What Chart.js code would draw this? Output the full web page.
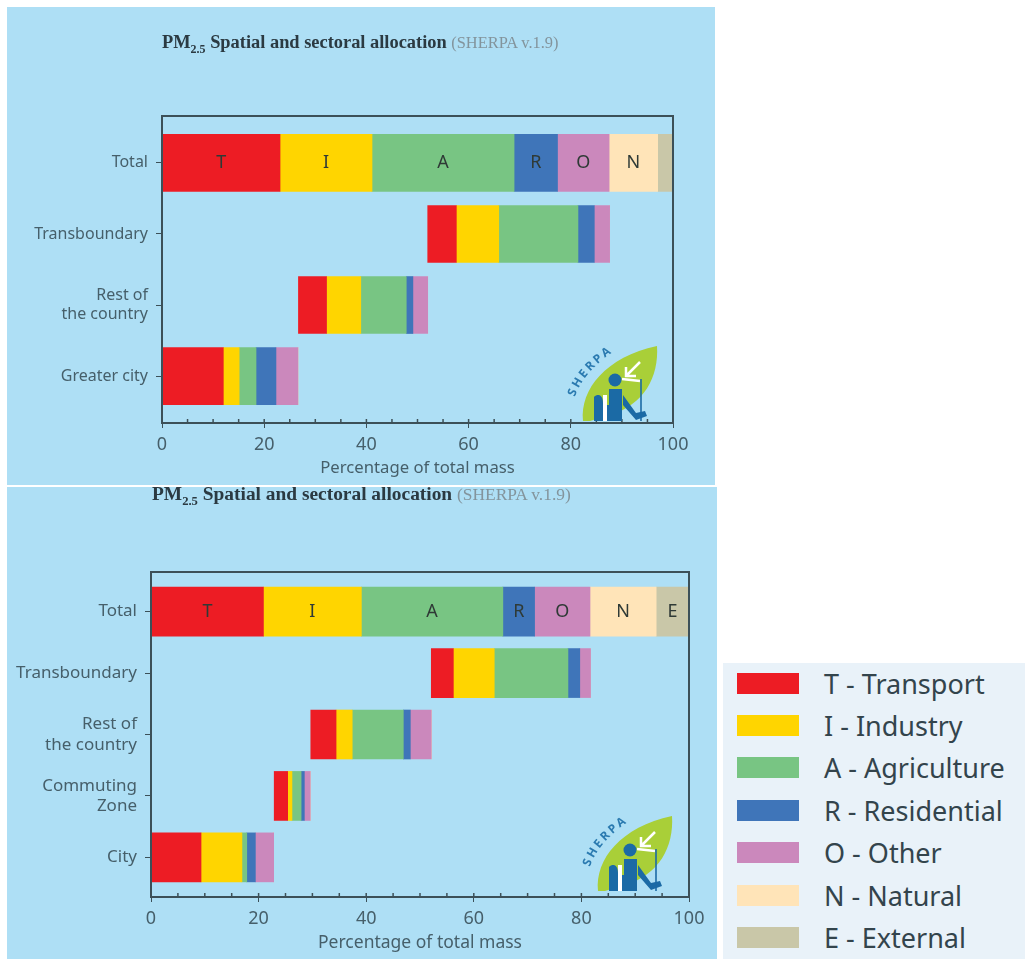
<!DOCTYPE html>
<html lang="en">
<head>
<meta charset="UTF-8">
<title>PM2.5 Spatial and sectoral allocation</title>
<script src="https://cdn.jsdelivr.net/npm/chart.js"></script>
<style>
    html, body { margin: 0; padding: 0; background: #fff; }
    body { position: relative; width: 1025px; height: 959px; overflow: hidden; }
    .panel { position: absolute; background: #aedff5; }
    #panel-top { left: 7px; top: 7px; width: 708px; height: 478px; }
    #panel-bottom { left: 7px; top: 487px; width: 710px; height: 472px; }
    .panel canvas { position: absolute; left: 0; top: 0; }
    .title { position: absolute; font-family: "Liberation Serif", serif; font-weight: bold; color: #2b3a42; white-space: nowrap; }
    .title sub { font-size: 0.65em; line-height: 0; }
    .title span { font-weight: normal; color: #83949c; }
    .logo { position: absolute; width: 120px; height: 110px; }
    #legend { position: absolute; left: 723px; top: 663px; width: 302px; height: 296px; background: #e9f2f9; }
    .row { position: absolute; left: 14px; height: 22px; display: flex; align-items: center; white-space: nowrap; }
    .row i { display: block; width: 62px; height: 21px; margin-right: 25px; }
    .row b { font: normal 27px "Noto Sans", sans-serif; color: #33444c; }
</style>
</head>
<body>
<div class="panel" id="panel-top"><canvas id="chart-top" width="708" height="478"></canvas></div>
<div class="panel" id="panel-bottom"><canvas id="chart-bottom" width="710" height="472"></canvas></div>

<div class="title" style="left:162px;top:32px;font-size:18.4px">PM<sub>2.5</sub> Spatial and sectoral allocation <span style="font-size:16.4px">(SHERPA v.1.9)</span></div>
<div class="title" style="left:152px;top:483px;font-size:19.4px">PM<sub>2.5</sub> Spatial and sectoral allocation <span style="font-size:17.4px">(SHERPA v.1.9)</span></div>

<svg width="0" height="0" style="position:absolute">
    <defs>
        <g id="sherpa-logo">
            <path d="M23 92C20 60 46 28 97 17C99 48 84 76 50 86L30 92Z" fill="#a9cf38"/>
            <path d="M80 33L66 47M66 38V47H76M62 50L80 52" stroke="#fff" stroke-width="2.5" fill="none"/>
            <path d="M43 66H47V92H43ZM50 64H54V92H50Z" fill="#fff"/>
            <circle cx="55" cy="51" r="6.5" fill="#1b6aa5"/>
            <path d="M49 60H62V92H47V76H49ZM34 68C38 64 43 66 43 74V92H34ZM63 66L76 84L85 82L87 87L76 91L63 76Z" fill="#1b6aa5"/>
            <path d="M81 50V92" stroke="#1b6aa5" stroke-width="1.6"/>
            <path id="sherpa-arc" d="M15 68C22 46 42 28 68 14" fill="none"/>
            <text font-family="'Open Sans', sans-serif" font-weight="700" font-size="12" letter-spacing="2.4" fill="#2a7ab0"><textPath href="#sherpa-arc">SHERPA</textPath></text>
        </g>
    </defs>
</svg>
<svg class="logo" viewBox="0 0 120 110" style="left:560px;top:329px"><use href="#sherpa-logo"/></svg>
<svg class="logo" viewBox="0 0 120 110" style="left:575px;top:799px"><use href="#sherpa-logo"/></svg>

<div id="legend"></div>

<script>
    // Sector names and colours
    const sectorNames = ['Transport', 'Industry', 'Agriculture', 'Residential', 'Other', 'Natural', 'External'];
    const sectorLetters = ['T', 'I', 'A', 'R', 'O', 'N', 'E'];
    const sectorColors = ['#ed1c24', '#ffd500', '#78c583', '#3f75b9', '#cb88bc', '#ffe4b8', '#c9c7a8'];
    const legendLabels = ['T - Transport', 'I - Industry', 'A - Agriculture', 'R - Residential', 'O - Other', 'N - Natural', 'E - External'];
    const xTickValues = [0, 5, 10, 15, 20, 25, 30, 35, 40, 45, 50, 55, 60, 65, 70, 75, 80, 85, 90, 95, 100];

    // Top chart, % of total mass
    const topCategories = [['Total'], ['Transboundary'], ['Rest of', 'the country'], ['Greater city']];
    const topOffset = [0, 52, 26.7, 0];
    const topTransport = [23.1, 5.6, 5.5, 12];
    const topIndustry = [18, 8.3, 6.7, 3.1];
    const topAgriculture = [27.8, 15.5, 8.9, 3.3];
    const topResidential = [8.5, 3.2, 1.3, 3.9];
    const topOther = [10.1, 3, 2.9, 4.3];
    const topNatural = [9.5, 0, 0, 0];
    const topExternal = [3, 0, 0, 0];

    // Bottom chart, % of total mass
    const bottomCategories = [['Total'], ['Transboundary'], ['Rest of', 'the country'], ['Commuting', 'Zone'], ['City']];
    const bottomOffset = [0, 52.1, 29.7, 22.9, 0];
    const bottomTransport = [20.9, 4.1, 4.7, 2.5, 9.3];
    const bottomIndustry = [18.2, 7.6, 3, 0.8, 7.6];
    const bottomAgriculture = [26.3, 13.7, 9.5, 1.7, 0.9];
    const bottomResidential = [5.9, 2.2, 1.3, 0.6, 1.6];
    const bottomOther = [10.3, 2, 3.9, 1.1, 3.4];
    const bottomNatural = [12.3, 0, 0, 0, 0];
    const bottomExternal = [6.1, 0, 0, 0, 0];

    const textColor = '#465f6a';
    const frameColor = '#3c5058';

    // Frame, small inner x ticks and the letters on the Total bar
    const extrasPlugin = {
        id: 'extras',
        afterDatasetsDraw(chart) {
            const { ctx, chartArea, scales } = chart;
            ctx.save();
            ctx.strokeStyle = frameColor;
            ctx.lineWidth = 2;
            ctx.strokeRect(chartArea.left, chartArea.top, chartArea.width, chartArea.height);
            ctx.lineWidth = 1.5;
            xTickValues.forEach(v => {
                const x = scales.x.getPixelForValue(v);
                ctx.beginPath();
                ctx.moveTo(x, chartArea.bottom);
                ctx.lineTo(x, chartArea.bottom - 4);
                ctx.stroke();
            });
            ctx.fillStyle = '#2f3a36';
            ctx.font = '18px "Noto Sans", sans-serif';
            ctx.textAlign = 'center';
            ctx.textBaseline = 'middle';
            sectorLetters.forEach((letter, i) => {
                const bar = chart.getDatasetMeta(i + 1).data[0];
                const left = Math.min(bar.x, bar.base);
                const w = Math.abs(bar.x - bar.base);
                if (w > 20) ctx.fillText(letter, left + w / 2, bar.y);
            });
            ctx.restore();
        }
    };

    function makeChart(id, categories, offset, series, opt) {
        const datasets = [{
            label: 'offset',
            data: offset.map((v, i) => ({ x: v, y: i })),
            backgroundColor: 'transparent',
            barThickness: opt.barThickness
        }];
        series.forEach((values, s) => {
            datasets.push({
                label: sectorNames[s],
                data: values.map((v, i) => ({ x: v, y: i })),
                backgroundColor: sectorColors[s],
                barThickness: opt.barThickness
            });
        });

        return new Chart(document.getElementById(id), {
            type: 'bar',
            data: { datasets },
            plugins: [extrasPlugin],
            options: {
                indexAxis: 'y',
                responsive: false,
                animation: false,
                layout: { padding: { top: opt.top, right: opt.right, left: 0, bottom: opt.pad } },
                plugins: { legend: { display: false }, tooltip: { enabled: false }, title: { display: false } },
                scales: {
                    x: {
                        stacked: true,
                        min: 0,
                        max: 100,
                        grid: { drawOnChartArea: false, tickLength: 5, tickColor: frameColor },
                        border: { display: false },
                        afterBuildTicks: scale => { scale.ticks = [0, 20, 40, 60, 80, 100].map(value => ({ value })); },
                        afterFit: scale => { scale.height = opt.bottom; },
                        ticks: { color: textColor, font: { family: '"Noto Sans", sans-serif', size: 18 }, padding: 6, maxRotation: 0, autoSkip: false },
                        title: {
                            display: true,
                            text: 'Percentage of total mass',
                            color: textColor,
                            font: { family: '"Noto Sans", sans-serif', size: opt.titleSize },
                            padding: { top: 2, bottom: 0 }
                        }
                    },
                    y: {
                        type: 'linear',
                        stacked: true,
                        reverse: true,
                        offset: false,
                        min: opt.yMin,
                        max: opt.yMax,
                        grid: { offset: false, drawOnChartArea: false, tickLength: 6, tickColor: frameColor },
                        border: { display: false },
                        afterBuildTicks: scale => { scale.ticks = categories.map((_, value) => ({ value })); },
                        afterFit: scale => { scale.width = opt.left; },
                        ticks: {
                            color: textColor,
                            font: { family: '"Noto Sans", sans-serif', size: opt.labelSize },
                            padding: 8,
                            autoSkip: false,
                            callback: value => categories[value]
                        }
                    }
                }
            }
        });
    }

    makeChart('chart-top', topCategories, topOffset,
        [topTransport, topIndustry, topAgriculture, topResidential, topOther, topNatural, topExternal],
        { left: 155, top: 109, right: 42, bottom: 55, pad: 7, titleSize: 16.7, labelSize: 16, barThickness: 57, yMin: -0.66, yMax: 3.66 });

    makeChart('chart-bottom', bottomCategories, bottomOffset,
        [bottomTransport, bottomIndustry, bottomAgriculture, bottomResidential, bottomOther, bottomNatural, bottomExternal],
        { left: 144, top: 85, right: 28, bottom: 57, pad: 5, titleSize: 17.5, labelSize: 17, barThickness: 49, yMin: -0.645, yMax: 4.645 });

    // Legend swatches
    const legend = document.getElementById('legend');
    legendLabels.forEach((label, i) => {
        const row = document.createElement('div');
        row.className = 'row';
        row.style.top = (9 + i * 42.4) + 'px';
        row.innerHTML = '<i style="background:' + sectorColors[i] + '"></i><b>' + label + '</b>';
        legend.appendChild(row);
    });
</script>
</body>
</html>
